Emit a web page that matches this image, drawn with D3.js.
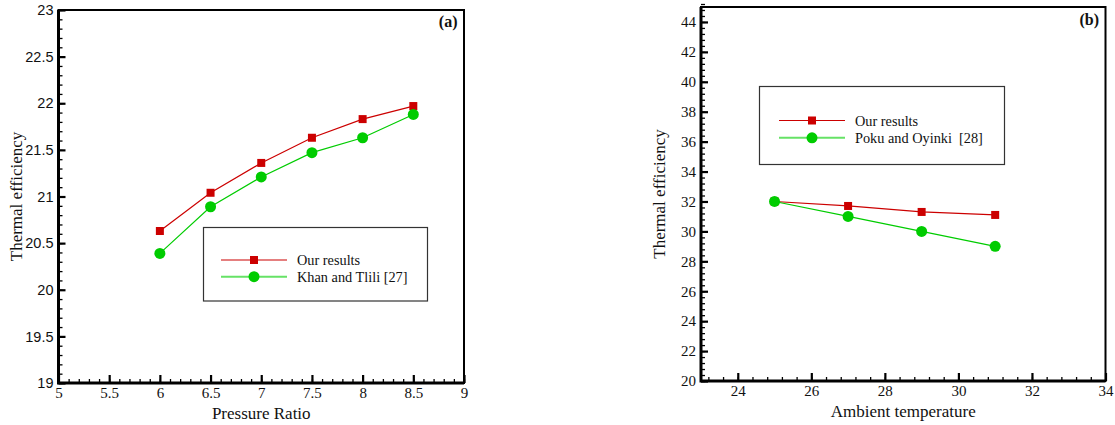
<!DOCTYPE html>
<html>
<head>
<meta charset="utf-8">
<script src="https://cdn.jsdelivr.net/npm/d3@7"></script>
<style>
  body { margin: 0; background: #fff; }
  svg { display: block; }
  .serif { font-family: "Liberation Serif", "Times New Roman", Times, "DejaVu Serif", serif; }
  .sans { font-family: "Liberation Sans", Arial, Helvetica, sans-serif; }
</style>
</head>
<body>
<svg id="chart" width="1115" height="425"></svg>
<script>
// Panel (a): efficiency versus pressure ratio
const pressureRatio = [6, 6.5, 7, 7.5, 8, 8.5];
const ourResultsA = [20.63, 21.04, 21.36, 21.63, 21.83, 21.97];
const khanTlili = [20.39, 20.89, 21.21, 21.47, 21.63, 21.88];
const xTicksA = [5, 5.5, 6, 6.5, 7, 7.5, 8, 8.5, 9];
const yTicksA = [19, 19.5, 20, 20.5, 21, 21.5, 22, 22.5, 23];

// Panel (b): efficiency versus ambient temperature
const ambientTemp = [25, 27, 29, 31];
const ourResultsB = [32.0, 31.7, 31.3, 31.1];
const pokuOyinki = [32.0, 31.0, 30.0, 29.0];
const xTicksB = [24, 26, 28, 30, 32, 34];
const yTicksB = [20, 22, 24, 26, 28, 30, 32, 34, 36, 38, 40, 42, 44];

const RED = "#cc0000";
const GREEN = "#00cc00";
const GREEN_LEGEND = "#66e266";

const svg = d3.select("#chart");

function range(a, b, step) {
  const out = [];
  const n = Math.round((b - a) / step);
  for (let i = 0; i <= n; i++) out.push(+(a + i * step).toFixed(6));
  return out;
}

function drawPanel(cfg) {
  const g = svg.append("g");
  const x = d3.scaleLinear().domain(cfg.xDomain).range([cfg.left, cfg.right]);
  const y = d3.scaleLinear().domain(cfg.yDomain).range([cfg.bottom, cfg.top]);

  // minor ticks
  g.append("g")
    .attr("transform", `translate(0,${cfg.bottom})`)
    .call(d3.axisBottom(x).tickValues(cfg.xMinor).tickSize(-4).tickFormat(""))
    .call(s => s.select(".domain").remove())
    .call(s => s.selectAll("line").attr("stroke", "#000").attr("stroke-width", 1.3));
  g.append("g")
    .attr("transform", `translate(${cfg.left},0)`)
    .call(d3.axisLeft(y).tickValues(cfg.yMinor).tickSize(-4).tickFormat(""))
    .call(s => s.select(".domain").remove())
    .call(s => s.selectAll("line").attr("stroke", "#000").attr("stroke-width", 1.3));

  // major ticks with labels
  const xa = g.append("g")
    .attr("transform", `translate(0,${cfg.bottom})`)
    .call(d3.axisBottom(x).tickValues(cfg.xTicks).tickSizeInner(-8).tickSizeOuter(0).tickPadding(6).tickFormat(d3.format("")));
  xa.attr("font-family", null);
  xa.select(".domain").remove();
  xa.selectAll("line").attr("stroke", "#000").attr("stroke-width", 2.2);
  xa.selectAll("text").attr("class", cfg.xFont).attr("font-size", 15).attr("fill", "#111")
    .attr("y", 4.5).attr("dy", "0.71em");

  const ya = g.append("g")
    .attr("transform", `translate(${cfg.left},0)`)
    .call(d3.axisLeft(y).tickValues(cfg.yTicks).tickSizeInner(-7).tickSizeOuter(0).tickPadding(4).tickFormat(d3.format("")));
  ya.attr("font-family", null);
  ya.select(".domain").remove();
  ya.selectAll("line").attr("stroke", "#000").attr("stroke-width", 2.2);
  ya.selectAll("text").attr("class", cfg.yFont).attr("font-size", cfg.yFontSize).attr("fill", "#111")
    .attr("x", -5);

  // frame
  g.append("rect")
    .attr("x", cfg.left).attr("y", cfg.top)
    .attr("width", cfg.right - cfg.left).attr("height", cfg.bottom - cfg.top)
    .attr("fill", "none").attr("stroke", "#000").attr("stroke-width", 2);
  g.append("path")
    .attr("d", `M${cfg.left},${cfg.top}V${cfg.bottom}H${cfg.right}`)
    .attr("fill", "none").attr("stroke", "#000").attr("stroke-width", 3);

  // series
  const line = d3.line().x(d => x(d[0])).y(d => y(d[1]));
  const redPts = cfg.xs.map((v, i) => [v, cfg.red[i]]);
  const greenPts = cfg.xs.map((v, i) => [v, cfg.green[i]]);

  g.append("path").datum(redPts).attr("d", line)
    .attr("fill", "none").attr("stroke", RED).attr("stroke-width", 1.2);
  g.append("path").datum(greenPts).attr("d", line)
    .attr("fill", "none").attr("stroke", GREEN).attr("stroke-width", 1.2);

  g.selectAll(".sq").data(redPts).join("rect")
    .attr("x", d => x(d[0]) - 4).attr("y", d => y(d[1]) - 4)
    .attr("width", 8).attr("height", 8).attr("fill", RED);
  g.selectAll(".ci").data(greenPts).join("circle")
    .attr("cx", d => x(d[0])).attr("cy", d => y(d[1]))
    .attr("r", 5.5).attr("fill", GREEN);

  // axis titles
  g.append("text").attr("class", "serif")
    .attr("x", (cfg.left + cfg.right) / 2).attr("y", cfg.bottom + 35.5)
    .attr("text-anchor", "middle").attr("font-size", 17).attr("fill", "#111")
    .text(cfg.xTitle);
  g.append("text").attr("class", "serif")
    .attr("transform", `translate(${cfg.yTitleX},${(cfg.top + cfg.bottom) / 2}) rotate(-90)`)
    .attr("text-anchor", "middle").attr("font-size", 17).attr("fill", "#111")
    .text("Thermal efficiency");

  // panel label
  g.append("text").attr("class", "serif")
    .attr("x", cfg.right - 6.5).attr("y", cfg.top + cfg.labelDy)
    .attr("text-anchor", "end").attr("font-size", 16)
    .attr("font-weight", "bold").attr("fill", "#111")
    .text(cfg.label);

  // legend
  const L = cfg.legend;
  const lg = g.append("g");
  lg.append("rect")
    .attr("x", L.x).attr("y", L.y).attr("width", L.w).attr("height", L.h)
    .attr("fill", "#fff").attr("stroke", "#333").attr("stroke-width", 1.2);
  const rows = [
    { name: cfg.names[0], color: RED, lineColor: RED, lw: 1.2, shape: "square" },
    { name: cfg.names[1], color: GREEN, lineColor: GREEN_LEGEND, lw: 2, shape: "circle" }
  ];
  rows.forEach((r, i) => {
    const ry = L.rowY + i * L.rowGap;
    lg.append("line")
      .attr("x1", L.lineX1).attr("x2", L.lineX2).attr("y1", ry).attr("y2", ry)
      .attr("stroke", r.lineColor).attr("stroke-width", r.lw);
    const mx = (L.lineX1 + L.lineX2) / 2;
    if (r.shape === "square") {
      lg.append("rect").attr("x", mx - 4).attr("y", ry - 4).attr("width", 8).attr("height", 8).attr("fill", r.color);
    } else {
      lg.append("circle").attr("cx", mx).attr("cy", ry).attr("r", 5.5).attr("fill", r.color);
    }
    lg.append("text").attr("class", "serif")
      .attr("x", L.textX).attr("y", ry).attr("dy", "0.35em")
      .attr("font-size", 14.3).attr("fill", "#111")
      .style("white-space", "pre")
      .text(r.name);
  });
}

drawPanel({
  left: 58.5, right: 464, top: 10, bottom: 383,
  xDomain: [5, 9], yDomain: [19, 23],
  xTicks: xTicksA, yTicks: yTicksA,
  xMinor: range(5, 9, 0.1), yMinor: range(19, 23, 0.1),
  xFont: "serif", yFont: "sans", yFontSize: 14.5,
  xs: pressureRatio, red: ourResultsA, green: khanTlili,
  xTitle: "Pressure Ratio", yTitleX: 22, label: "(a)", labelDy: 17,
  names: ["Our results", "Khan and Tlili [27]"],
  legend: { x: 203.5, y: 227.5, w: 224, h: 73.5, lineX1: 221, lineX2: 287, rowY: 260, rowGap: 16.7, textX: 297 }
});

drawPanel({
  left: 701, right: 1105.5, top: 7, bottom: 381,
  xDomain: [23, 34], yDomain: [20, 45],
  xTicks: xTicksB, yTicks: yTicksB,
  xMinor: range(23.2, 34, 0.4), yMinor: range(20, 45, 0.4),
  xFont: "serif", yFont: "serif", yFontSize: 15,
  xs: ambientTemp, red: ourResultsB, green: pokuOyinki,
  xTitle: "Ambient temperature", yTitleX: 665, label: "(b)", labelDy: 18,
  names: ["Our results", "Poku and Oyinki  [28]"],
  legend: { x: 759.5, y: 86.5, w: 245, h: 78, lineX1: 779, lineX2: 845, rowY: 120.5, rowGap: 17.3, textX: 855 }
});
</script>
</body>
</html>
